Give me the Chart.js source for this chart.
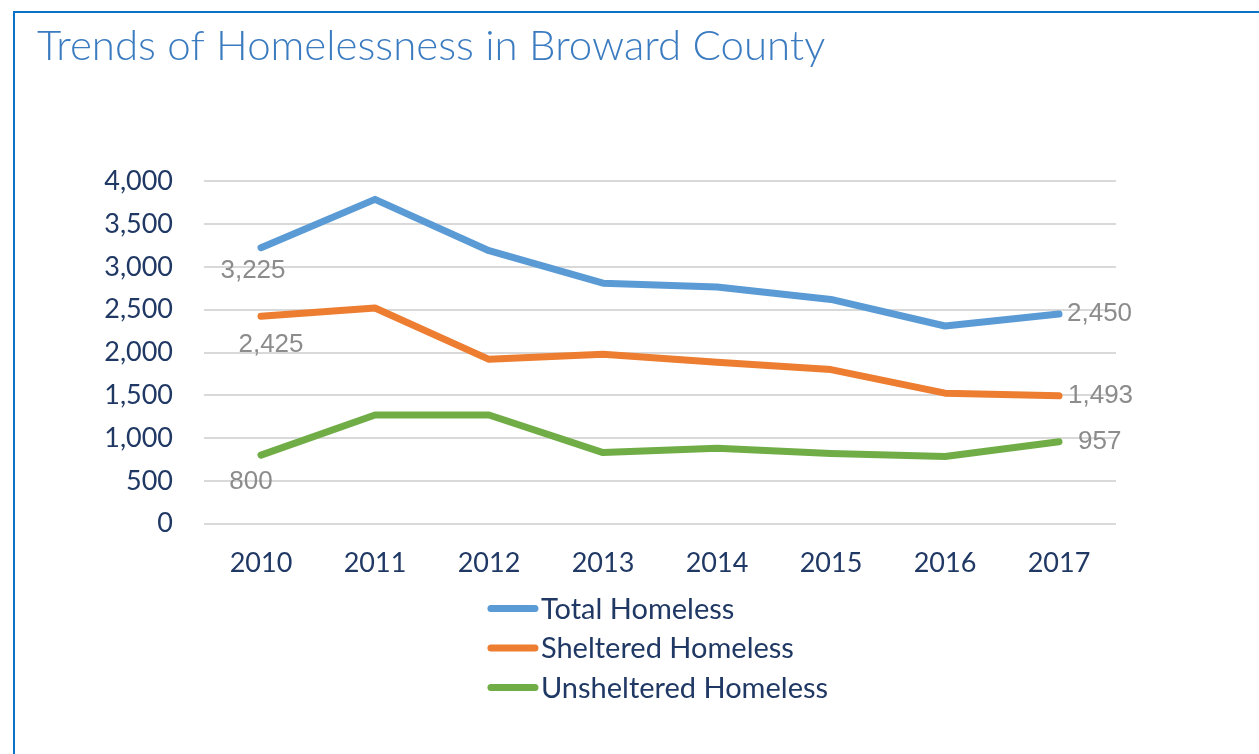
<!DOCTYPE html>
<html>
<head>
<meta charset="utf-8">
<title>Trends of Homelessness in Broward County</title>
<script src="https://cdn.jsdelivr.net/npm/chart.js@4/dist/chart.umd.min.js"></script>
<style>
    html, body { margin: 0; padding: 0; background: #fff; }
    #wrap { position: relative; width: 1259px; height: 754px; overflow: hidden; }
    #frame {
        position: absolute; left: 13px; top: 11px; right: -10px; bottom: -10px;
        border-top: 2px solid #0b72c6; border-left: 2px solid #0b72c6;
    }
    #chart { position: absolute; left: 0; top: 0; }
</style>
</head>
<body>
<div id="wrap">
    <div id="frame"></div>
    <canvas id="chart" width="1259" height="754"></canvas>
</div>
<script>
// values
const years = ['2010', '2011', '2012', '2013', '2014', '2015', '2016', '2017'];
const totalHomeless = [3225, 3790, 3190, 2810, 2765, 2620, 2310, 2450];
const shelteredHomeless = [2425, 2520, 1920, 1980, 1885, 1800, 1525, 1493];
const unshelteredHomeless = [800, 1270, 1270, 830, 880, 820, 785, 957];
const seriesNames = ['Total Homeless', 'Sheltered Homeless', 'Unsheltered Homeless'];
const seriesColors = ['#5b9bd5', '#ed7d31', '#70ad47'];

// where the first / last value labels sit next to their point
const firstLabelOffsets = [[-8, 23], [10, 29], [-10, 27]];
const lastLabelOffsets = [8, 9, 19];

const textColor = '#203864';

const valueLabels = {
    id: 'valueLabels',
    afterDatasetsDraw(chart) {
        const ctx = chart.ctx;
        ctx.save();
        ctx.font = '26px "Liberation Sans", Arial, sans-serif';
        ctx.fillStyle = '#8c8c8c';
        ctx.textBaseline = 'middle';
        chart.data.datasets.forEach((ds, i) => {
            const pts = chart.getDatasetMeta(i).data;
            const first = pts[0];
            const last = pts[pts.length - 1];
            ctx.textAlign = 'center';
            ctx.fillText(ds.data[0].toLocaleString('en-US'),
                first.x + firstLabelOffsets[i][0], first.y + firstLabelOffsets[i][1]);
            ctx.textAlign = 'left';
            ctx.fillText(ds.data[ds.data.length - 1].toLocaleString('en-US'),
                last.x + lastLabelOffsets[i], last.y);
        });
        ctx.restore();
    }
};

// stacked legend under the plot, items left aligned, block centred
const stackedLegend = {
    id: 'stackedLegend',
    afterDraw(chart) {
        const ctx = chart.ctx;
        const area = chart.chartArea;
        const lineLen = 50;
        const gap = 3;
        ctx.save();
        ctx.font = '29px Lato, "Open Sans", sans-serif';
        const widest = Math.max(...chart.data.datasets.map(ds => ctx.measureText(ds.label).width));
        const left = (area.left + area.right) / 2 - (lineLen + gap + widest) / 2 - 2;
        chart.data.datasets.forEach((ds, i) => {
            const y = area.bottom + 85 + i * 39.5;
            ctx.strokeStyle = ds.borderColor;
            ctx.lineWidth = 7;
            ctx.lineCap = 'round';
            ctx.beginPath();
            ctx.moveTo(left + 3, y);
            ctx.lineTo(left + lineLen - 3, y);
            ctx.stroke();
            ctx.fillStyle = textColor;
            ctx.textAlign = 'left';
            ctx.textBaseline = 'middle';
            ctx.fillText(ds.label, left + lineLen + gap, y + 1);
        });
        ctx.restore();
    }
};

const seriesValues = [totalHomeless, shelteredHomeless, unshelteredHomeless];

new Chart(document.getElementById('chart').getContext('2d'), {
    type: 'line',
    data: {
        labels: years,
        datasets: seriesValues.map((values, i) => ({
            label: seriesNames[i],
            data: values,
            borderColor: seriesColors[i],
            backgroundColor: seriesColors[i],
            borderWidth: 7,
            borderCapStyle: 'round',
            borderJoinStyle: 'round',
            pointRadius: 0,
            pointHoverRadius: 0,
            tension: 0,
            fill: false
        }))
    },
    options: {
        responsive: false,
        animation: false,
        devicePixelRatio: 1,
        layout: {
            padding: { left: 37, right: 143, top: 13, bottom: 160 }
        },
        plugins: {
            legend: { display: false },
            tooltip: { enabled: false },
            title: {
                display: true,
                text: 'Trends of Homelessness in Broward County',
                align: 'start',
                color: '#3b7bc0',
                font: { family: 'Lato, "Open Sans", sans-serif', size: 42, weight: 300 },
                padding: { top: 8, bottom: 110 }
            }
        },
        scales: {
            x: {
                offset: true,
                grid: { display: false },
                border: { display: false },
                ticks: {
                    color: textColor,
                    padding: 15,
                    font: { family: 'Lato, "Open Sans", sans-serif', size: 27 }
                }
            },
            y: {
                min: 0,
                max: 4000,
                afterFit(scale) { scale.width = 167; },
                grid: { color: '#d9d9d9', lineWidth: 2, drawTicks: false },
                border: { display: false },
                ticks: {
                    stepSize: 500,
                    color: textColor,
                    padding: 31,
                    font: { family: 'Lato, "Open Sans", sans-serif', size: 27 },
                    callback: v => v.toLocaleString('en-US')
                }
            }
        }
    },
    plugins: [valueLabels, stackedLegend]
});
</script>
</body>
</html>
